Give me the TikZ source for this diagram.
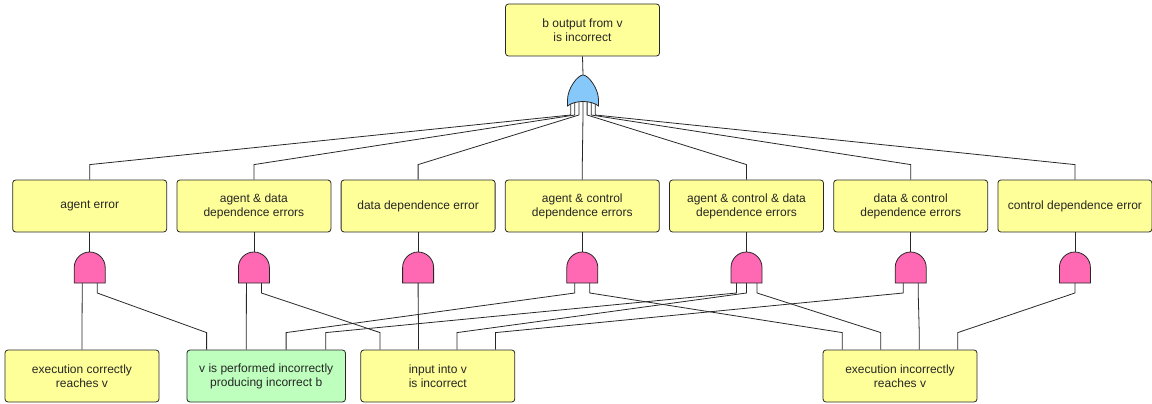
\documentclass[tikz,border=0pt]{standalone}
\usepackage{fontspec}
\setmainfont{Liberation Sans}
\usetikzlibrary{calc}

\definecolor{evyellow}{RGB}{255,255,153}
\definecolor{evgreen}{RGB}{190,255,190}
\definecolor{andpink}{RGB}{255,105,180}
\definecolor{orblue}{RGB}{135,200,250}
\definecolor{edgegray}{RGB}{40,40,40}

\tikzset{
    event/.style={draw=edgegray, line width=0.8pt, rounded corners=3pt,
        fill=evyellow, minimum width=154pt, minimum height=52pt,
        align=center, inner sep=2pt, text=black!85,
        font=\fontsize{12}{14}\selectfont},
    wire/.style={line width=0.8pt, draw=edgegray},
    andg/.pic={
        \draw[wire, fill=andpink] (-15.5,0) -- (-15.5,-15.5)
            .. controls (-15.5,-24) and (-8.5,-31) .. (0,-31)
            .. controls (8.5,-31) and (15.5,-24) .. (15.5,-15.5)
            -- (15.5,0) -- cycle;
    },
    org/.pic={
        \draw[wire, fill=orblue] (-15.5,0) -- (-15.5,-6)
            .. controls (-15.5,-18) and (-5,-31) .. (0,-31)
            .. controls (5,-31) and (15.5,-18) .. (15.5,-6)
            -- (15.5,0)
            .. controls (8,-6) and (-8,-6) .. cycle;
    }
}

\begin{document}
\begin{tikzpicture}[x=1pt, y=-1pt]
    \useasboundingbox (0,0) rectangle (1152,404);

    % top event and OR gate
    \node[event] (top) at (582.5,30) {b output from v\\is incorrect};
    \coordinate (orgate) at (583,106);

    % intermediate events
    \node[event] (n1) at (89.7,206) {agent error};
    \node[event] (n2) at (253.9,206) {agent \& data\\dependence errors};
    \node[event] (n3) at (418.1,206) {data dependence error};
    \node[event] (n4) at (582.3,206) {agent \& control\\dependence errors};
    \node[event] (n5) at (746.5,206) {agent \& control \& data\\dependence errors};
    \node[event] (n6) at (910.7,206) {data \& control\\dependence errors};
    \node[event] (n7) at (1074.9,206) {control dependence error};

    % AND gates (bottom centre)
    \coordinate (g1) at (89.7,283);
    \coordinate (g2) at (253.9,283);
    \coordinate (g3) at (418.1,283);
    \coordinate (g4) at (582.3,283);
    \coordinate (g5) at (746.5,283);
    \coordinate (g6) at (910.7,283);
    \coordinate (g7) at (1074.9,283);

    % basic events
    \node[event] (b1) at (82,376) {execution correctly\\reaches v};
    \node[event, fill=evgreen, minimum width=158.5pt] (b2) at (266.2,376)
        {v is performed incorrectly\\producing incorrect b};
    \node[event] (b3) at (437.8,376) {input into v\\is incorrect};
    \node[event] (b4) at (900,376) {execution incorrectly\\reaches v};

    % top event to OR gate
    \draw[wire] (top.south) -- ($(orgate)+(0,-31)$);

    % OR gate inputs
    \draw[wire] ($(orgate)+(-12.3,-6)$) -- ++(0,15) -- ($(n1.north)+(0,-15)$) -- (n1.north);
    \draw[wire] ($(orgate)+(-8.2,-6)$) -- ++(0,15) -- ($(n2.north)+(0,-15)$) -- (n2.north);
    \draw[wire] ($(orgate)+(-4.1,-6)$) -- ++(0,15) -- ($(n3.north)+(0,-15)$) -- (n3.north);
    \draw[wire] ($(orgate)+(0,-6)$) -- ++(0,15) -- ($(n4.north)+(0,-15)$) -- (n4.north);
    \draw[wire] ($(orgate)+(4.1,-6)$) -- ++(0,15) -- ($(n5.north)+(0,-15)$) -- (n5.north);
    \draw[wire] ($(orgate)+(8.2,-6)$) -- ++(0,15) -- ($(n6.north)+(0,-15)$) -- (n6.north);
    \draw[wire] ($(orgate)+(12.3,-6)$) -- ++(0,15) -- ($(n7.north)+(0,-15)$) -- (n7.north);

    % events to AND gates
    \draw[wire] (n1.south) -- ($(g1)+(0,-31)$);
    \draw[wire] (n2.south) -- ($(g2)+(0,-31)$);
    \draw[wire] (n3.south) -- ($(g3)+(0,-31)$);
    \draw[wire] (n4.south) -- ($(g4)+(0,-31)$);
    \draw[wire] (n5.south) -- ($(g5)+(0,-31)$);
    \draw[wire] (n6.south) -- ($(g6)+(0,-31)$);
    \draw[wire] (n7.south) -- ($(g7)+(0,-31)$);

    % AND gate inputs
    \draw[wire] ($(g1)+(-7.5,0)$) -- ++(0,10) -- ($(b1.north)+(0,-17)$) -- (b1.north);
    \draw[wire] ($(g1)+(7.5,0)$) -- ++(0,10) -- ($(b2.north)+(-59.6,-17)$) -- ++(0,17);
    \draw[wire] ($(g2)+(-7.5,0)$) -- ++(0,10) -- ($(b2.north)+(-19.9,-17)$) -- ++(0,17);
    \draw[wire] ($(g2)+(7.5,0)$) -- ++(0,10) -- ($(b3.north)+(-57.75,-17)$) -- ++(0,17);
    \draw[wire] (g3) -- ++(0,10) -- ($(b3.north)+(-19.25,-17)$) -- ++(0,17);
    \draw[wire] ($(g4)+(-7.5,0)$) -- ++(0,10) -- ($(b2.north)+(19.9,-17)$) -- ++(0,17);
    \draw[wire] ($(g4)+(7.5,0)$) -- ++(0,10) -- ($(b4.north)+(-57.75,-17)$) -- ++(0,17);
    \draw[wire] ($(g5)+(-10,0)$) -- ++(0,10) -- ($(b2.north)+(59.6,-17)$) -- ++(0,17);
    \draw[wire] (g5) -- ++(0,10) -- ($(b3.north)+(19.25,-17)$) -- ++(0,17);
    \draw[wire] ($(g5)+(10.5,0)$) -- ++(0,10) -- ($(b4.north)+(-19.25,-17)$) -- ++(0,17);
    \draw[wire] ($(g6)+(-7.5,0)$) -- ++(0,10) -- ($(b3.north)+(57.75,-17)$) -- ++(0,17);
    \draw[wire] ($(g6)+(7.5,0)$) -- ++(0,10) -- ($(b4.north)+(19.25,-17)$) -- ++(0,17);
    \draw[wire] (g7) -- ++(0,10) -- ($(b4.north)+(57.75,-17)$) -- ++(0,17);

    % gates on top
    \pic at (orgate) {org};
    \pic at (g1) {andg};
    \pic at (g2) {andg};
    \pic at (g3) {andg};
    \pic at (g4) {andg};
    \pic at (g5) {andg};
    \pic at (g6) {andg};
    \pic at (g7) {andg};
\end{tikzpicture}
\end{document}
